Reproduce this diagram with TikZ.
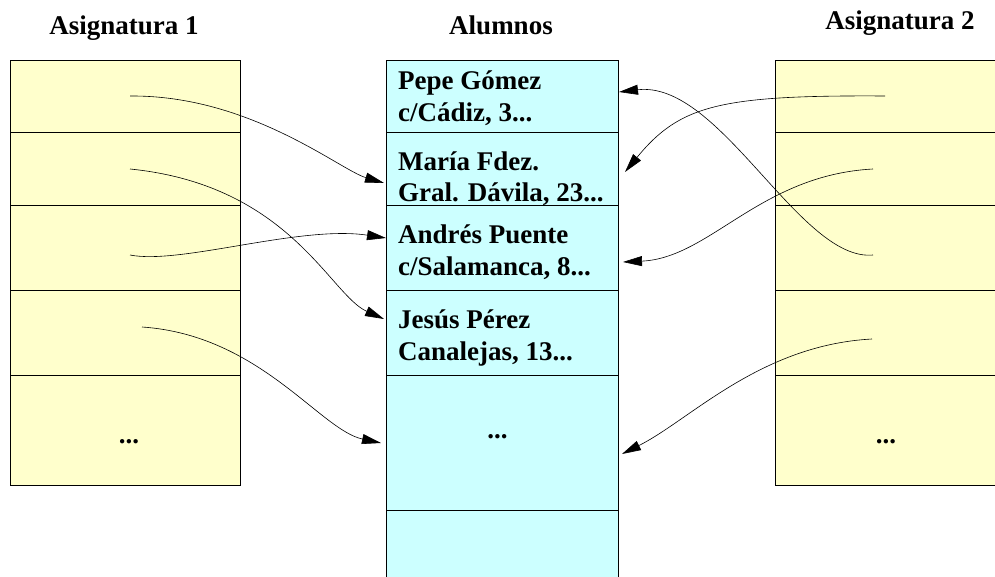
\documentclass[tikz,border=0pt]{standalone}
\usepackage{fontspec}
\setmainfont{Liberation Serif}
\usetikzlibrary{arrows.meta}
\definecolor{cellyellow}{RGB}{255,255,204}
\definecolor{cellcyan}{RGB}{204,255,255}
\tikzset{
  cellbase/.style={draw=black, line width=0.9pt, inner sep=0pt, outer sep=0pt, rectangle},
  ycell/.style={cellbase, fill=cellyellow, minimum width=230pt},
  ccell/.style={cellbase, fill=cellcyan, minimum width=232pt},
  rcell/.style={cellbase, fill=cellyellow, minimum width=240pt},
  title/.style={font=\fontsize{27}{32}\selectfont\bfseries, inner sep=0pt, anchor=base},
  entry/.style={font=\fontsize{27}{32}\selectfont\bfseries, inner sep=0pt, anchor=base west},
  dots/.style={font=\fontsize{27}{32}\selectfont\bfseries, inner sep=0pt, anchor=base},
  link/.style={line width=0.6pt, -{Triangle[length=19pt,width=10pt]}}
}
\begin{document}
\begin{tikzpicture}[x=1pt,y=-1pt]
\useasboundingbox (0,0) rectangle (995,577);
\clip (0,0) rectangle (995,577);
% titles
\node[title] (t1) at (124,35) {Asignatura 1};
\node[title] (t2) at (501,35) {Alumnos};
\node[title] (t3) at (900,30) {Asignatura 2};
% left table
\node[ycell, minimum height=72pt] (L1) at (125,96) {};
\node[ycell, minimum height=73pt] (L2) at (125,168.5) {};
\node[ycell, minimum height=85pt] (L3) at (125,247.5) {};
\node[ycell, minimum height=85pt] (L4) at (125,332.5) {};
\node[ycell, minimum height=110pt] (L5) at (125,430) {};
% middle table
\node[ccell, minimum height=72pt] (M1) at (502,96) {};
\node[ccell, minimum height=73pt] (M2) at (502,168.5) {};
\node[ccell, minimum height=85pt] (M3) at (502,247.5) {};
\node[ccell, minimum height=85pt] (M4) at (502,332.5) {};
\node[ccell, minimum height=135pt] (M5) at (502,442.5) {};
\node[ccell, minimum height=100pt] (M6) at (502,560) {};
% right table
\node[rcell, minimum height=72pt] (R1) at (895,96) {};
\node[rcell, minimum height=73pt] (R2) at (895,168.5) {};
\node[rcell, minimum height=85pt] (R3) at (895,247.5) {};
\node[rcell, minimum height=85pt] (R4) at (895,332.5) {};
\node[rcell, minimum height=110pt] (R5) at (895,430) {};
% texts
\node[entry] (m1a) at (398,90) {Pepe Gómez};
\node[entry] (m1b) at (398,121.5) {c/Cádiz, 3...};
\node[entry] (m2a) at (398,170.5) {María Fdez.};
\node[entry] (m2b) at (398,201.5) {Gral. Dávila, 23...};
\node[entry] (m3a) at (398,243.5) {Andrés Puente};
\node[entry] (m3b) at (398,275) {c/Salamanca, 8...};
\node[entry] (m4a) at (398,328) {Jesús Pérez};
\node[entry] (m4b) at (398,360) {Canalejas, 13...};
\node[dots] (d1) at (129,443) {...};
\node[dots] (d2) at (497.5,438) {...};
\node[dots] (d3) at (886,443) {...};
% connector end points
\coordinate (a1s) at (130,96);
\coordinate (a1e) at (384,183);
\coordinate (a2s) at (130,169);
\coordinate (a2e) at (384,319);
\coordinate (a3s) at (130,255);
\coordinate (a3e) at (386,238);
\coordinate (a4s) at (142,327);
\coordinate (a4e) at (381,443);
\coordinate (b1s) at (885,96);
\coordinate (b1e) at (625,172);
\coordinate (b2s) at (873,255);
\coordinate (b2e) at (619,92);
\coordinate (b3s) at (873,169);
\coordinate (b3e) at (623,262);
\coordinate (b4s) at (872,339);
\coordinate (b4e) at (622,454);
% connectors
\draw[link] (a1s) .. controls (250,95) and (340,170) .. (a1e);
\draw[link] (a2s) .. controls (290,185) and (330,295) .. (a2e);
\draw[link] (a3s) .. controls (180,265) and (300,225) .. (a3e);
\draw[link] (a4s) .. controls (260,335) and (320,430) .. (a4e);
\draw[link] (b1s) .. controls (720,95) and (680,105) .. (b1e);
\draw[link] (b2s) .. controls (800,262) and (720,80) .. (b2e);
\draw[link] (b3s) .. controls (760,175) and (710,258) .. (b3e);
\draw[link] (b4s) .. controls (760,345) and (690,420) .. (b4e);
\end{tikzpicture}
\end{document}
